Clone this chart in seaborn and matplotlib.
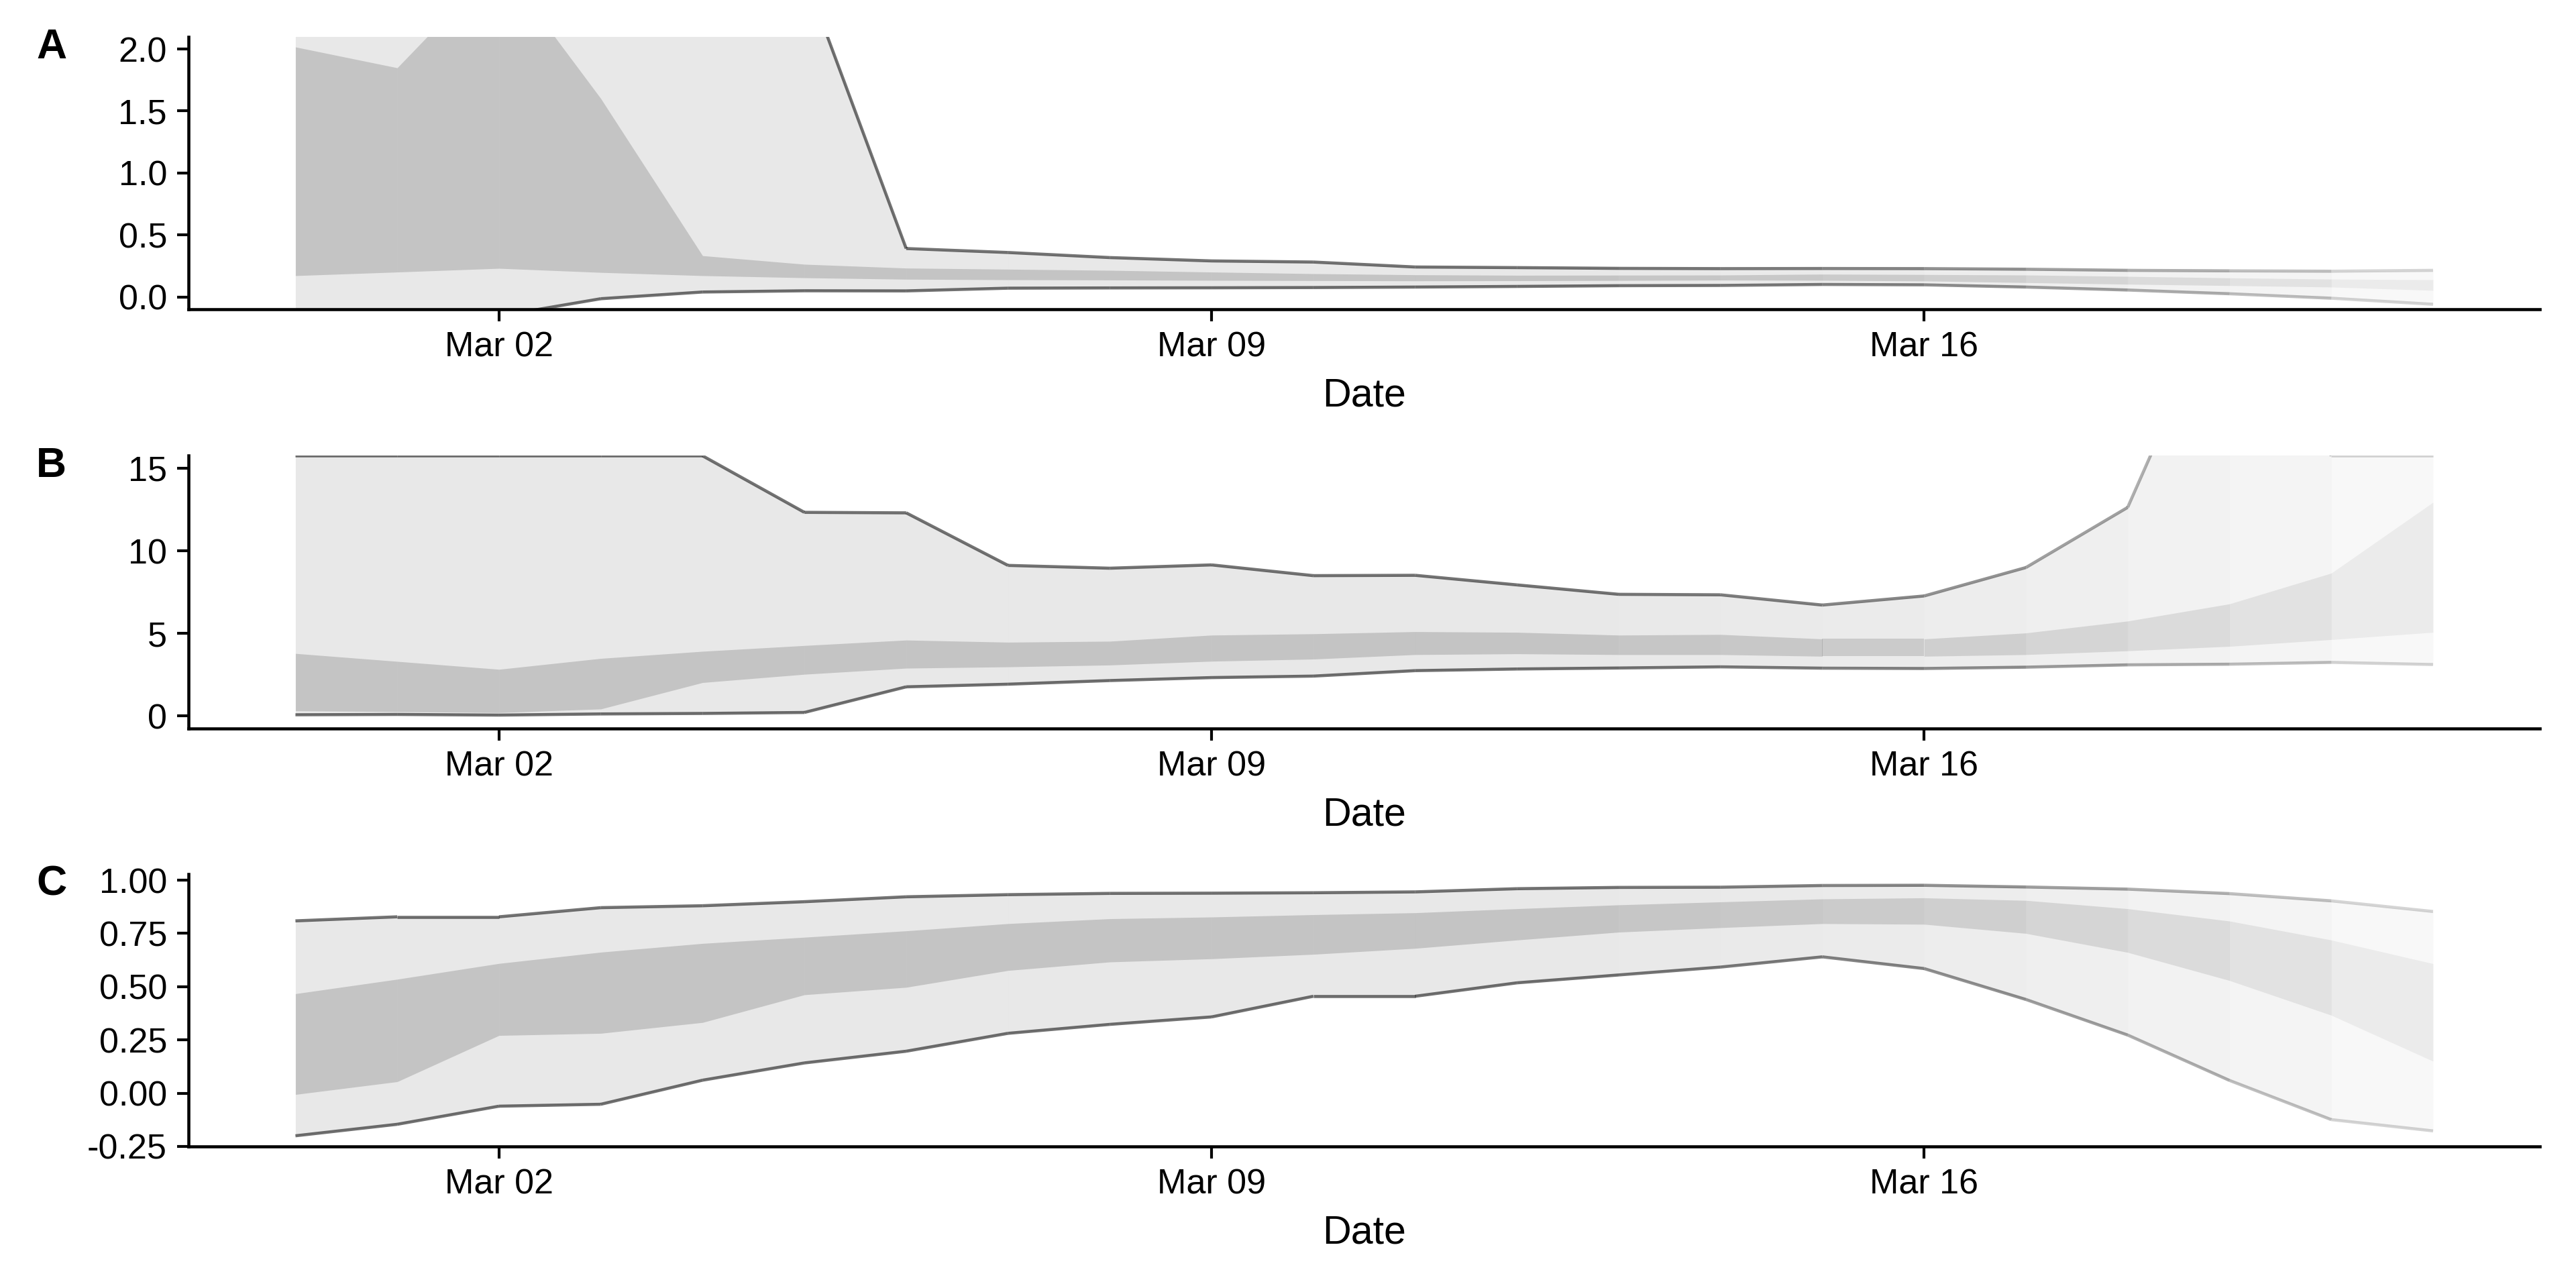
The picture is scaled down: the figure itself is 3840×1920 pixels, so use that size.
import numpy as np
import pandas as pd
import matplotlib
matplotlib.use("Agg")
import matplotlib.pyplot as plt
import matplotlib.dates as mdates
from matplotlib.ticker import FixedLocator, FormatStrFormatter
import seaborn as sns

# ---------------- data ----------------
dates = pd.date_range("2020-02-29", "2020-03-21", freq="D")

# confidence of each day's estimate (controls fading at the end)
confidence = [1.0, 1.0, 1.0, 1.0, 1.0, 1.0, 1.0, 1.0, 1.0, 1.0, 1.0, 1.0, 1.0,
              0.96, 0.92, 0.86, 0.78, 0.68, 0.57, 0.45, 0.30, 0.20]

# Panel A
A_upper95 = [6.0, 5.5, 6.5, 5.0, 3.8, 2.6, 0.39, 0.358, 0.317, 0.29, 0.281, 0.241,
             0.236, 0.23, 0.228, 0.229, 0.228, 0.223, 0.214, 0.21, 0.207, 0.214]
A_upper50 = [2.016, 1.848, 2.7, 1.6, 0.332, 0.263, 0.232, 0.223, 0.214, 0.2, 0.187,
             0.178, 0.174, 0.175, 0.176, 0.183, 0.18, 0.176, 0.165, 0.153, 0.143, 0.138]
A_lower50 = [0.171, 0.2, 0.23, 0.197, 0.171, 0.154, 0.142, 0.138, 0.136, 0.133, 0.131,
             0.129, 0.13, 0.132, 0.135, 0.133, 0.128, 0.115, 0.102, 0.091, 0.079, 0.052]
A_lower95 = [-0.3, -0.25, -0.155, -0.015, 0.039, 0.049, 0.048, 0.07, 0.072, 0.073, 0.075,
             0.079, 0.084, 0.09, 0.092, 0.1, 0.097, 0.079, 0.055, 0.025, -0.011, -0.06]

# Panel B
B_upper95 = [15.75, 15.75, 15.75, 15.75, 15.75, 12.33, 12.3, 9.12, 8.95, 9.15, 8.5,
             8.52, 7.94, 7.37, 7.34, 6.72, 7.27, 8.99, 12.63, 26.6, 15.75, 15.75]
B_upper50 = [3.79, 3.31, 2.83, 3.49, 3.92, 4.27, 4.6, 4.47, 4.53, 4.9, 4.98, 5.11,
             5.07, 4.9, 4.94, 4.67, 4.67, 5.03, 5.75, 6.79, 8.65, 12.94]
B_lower50 = [0.32, 0.27, 0.21, 0.43, 2.03, 2.53, 2.9, 2.98, 3.09, 3.32, 3.45, 3.72,
             3.77, 3.72, 3.72, 3.62, 3.62, 3.72, 3.95, 4.22, 4.63, 5.07]
B_lower95 = [0.08, 0.1, 0.06, 0.13, 0.16, 0.22, 1.77, 1.93, 2.15, 2.33, 2.42, 2.75,
             2.85, 2.91, 2.98, 2.9, 2.88, 2.96, 3.1, 3.14, 3.25, 3.12]

# Panel C
C_upper95 = [0.809, 0.828, 0.828, 0.871, 0.88, 0.899, 0.922, 0.932, 0.938, 0.939, 0.941,
             0.945, 0.96, 0.966, 0.967, 0.975, 0.976, 0.968, 0.958, 0.937, 0.903, 0.853]
C_upper50 = [0.467, 0.535, 0.609, 0.662, 0.703, 0.732, 0.762, 0.796, 0.819, 0.827, 0.838,
             0.847, 0.866, 0.884, 0.898, 0.912, 0.917, 0.905, 0.866, 0.808, 0.719, 0.608]
C_lower50 = [-0.006, 0.054, 0.271, 0.281, 0.332, 0.462, 0.497, 0.576, 0.616, 0.631, 0.652,
             0.68, 0.719, 0.756, 0.777, 0.796, 0.793, 0.75, 0.661, 0.529, 0.366, 0.15]
C_lower95 = [-0.2, -0.146, -0.061, -0.052, 0.061, 0.142, 0.197, 0.281, 0.323, 0.358, 0.455,
             0.455, 0.518, 0.555, 0.592, 0.64, 0.585, 0.44, 0.273, 0.06, -0.124, -0.177]

panel_letters = ["A", "B", "C"]
y_ticks = [[0.0, 0.5, 1.0, 1.5, 2.0], [0, 5, 10, 15], [-0.25, 0.0, 0.25, 0.5, 0.75, 1.0]]
y_fmt = ["%.1f", "%d", "%.2f"]
y_lims = [(-0.1, 2.1), (-0.75, 15.75), (-0.25, 1.03)]

# ---------------- style ----------------
sns.set_theme(style="ticks")
plt.rcParams["font.family"] = ["Liberation Sans", "DejaVu Sans"]
plt.rcParams["axes.unicode_minus"] = False

fig = plt.figure(figsize=(12.8, 6.4), dpi=300)

left, width, height = 0.0732, 0.9128, 0.2117
bottoms = [0.7599, 0.4344, 0.1099]
letter_y = [0.9547, 0.6297, 0.3047]   # baselines

band_col = "#7f7f7f"
a_outer, a_inner = 0.175, 0.343
line_alpha = 0.55

panels = [
    (A_lower95, A_lower50, A_upper50, A_upper95),
    (B_lower95, B_lower50, B_upper50, B_upper95),
    (C_lower95, C_lower50, C_upper50, C_upper95),
]

x = mdates.date2num(dates.to_pydatetime())
span = x[-1] - x[0]

for k, (lo95, lo50, hi50, hi95) in enumerate(panels):
    ax = fig.add_axes([left, bottoms[k], width, height])
    lo95, lo50, hi50, hi95 = map(np.asarray, (lo95, lo50, hi50, hi95))
    n = len(x)
    for i in range(n - 1):
        c = confidence[i]
        xs = x[i:i + 2]
        ax.fill_between(xs, lo95[i:i + 2], hi95[i:i + 2], color=band_col,
                        alpha=a_outer * c, lw=0)
        ax.fill_between(xs, lo50[i:i + 2], hi50[i:i + 2], color=band_col,
                        alpha=a_inner * c, lw=0)
    for i in range(n - 1):
        c = confidence[i]
        xs = x[i:i + 2]
        for arr in (lo95, hi95):
            ax.plot(xs, arr[i:i + 2], color="black", alpha=line_alpha * c,
                    lw=1.1, solid_capstyle="butt")

    ax.set_xlim(x[0] - 0.05 * span, x[-1] + 0.05 * span)
    ax.set_ylim(*y_lims[k])
    ax.yaxis.set_major_locator(FixedLocator(y_ticks[k]))
    ax.yaxis.set_major_formatter(FormatStrFormatter(y_fmt[k]))
    ax.xaxis.set_major_locator(mdates.WeekdayLocator(byweekday=mdates.MO))
    ax.xaxis.set_major_formatter(mdates.DateFormatter("%b %d"))
    ax.set_facecolor("white")
    ax.grid(False)
    sns.despine(ax=ax)
    for s in ("left", "bottom"):
        ax.spines[s].set_linewidth(1.1)
        ax.spines[s].set_color("black")
    ax.tick_params(axis="both", which="major", length=4.2, width=1.0,
                   color="black", labelsize=12.5, labelcolor="black", pad=3.5,
                   direction="out")
    ax.set_xlabel("Date", fontsize=14.2, color="black", labelpad=5)
    ax.set_ylabel("")
    fig.text(0.02, letter_y[k], panel_letters[k], fontsize=15, fontweight="bold",
             ha="center", va="baseline", color="black")

fig.savefig("out.png", dpi=300, facecolor="white")
